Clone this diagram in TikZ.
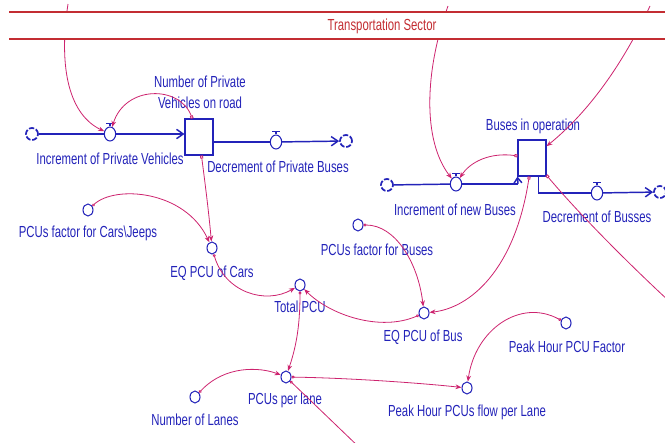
\documentclass[tikz,border=0pt]{standalone}
\usepackage{fontspec}
\setmainfont[FakeStretch=0.71]{Liberation Sans}
\usetikzlibrary{arrows.meta,shapes.geometric}

\definecolor{flowblue}{RGB}{35,35,185}
\definecolor{linkpink}{RGB}{205,35,110}
\definecolor{bandred}{RGB}{195,45,50}

\tikzset{
  lbl/.style={text=flowblue, font=\fontsize{12}{15.5}\selectfont, inner sep=0pt, align=center},
  aux/.style={ellipse, draw=flowblue, thick, minimum width=7.5pt, minimum height=9pt, inner sep=0pt},
  valve/.style={aux, minimum width=8.5pt, minimum height=10.5pt},
  stock/.style={rectangle, draw=flowblue, thick, minimum width=21pt, minimum height=27pt, inner sep=0pt},
  cloud/.style={circle, draw=flowblue, line width=1.3pt, dash pattern=on 4pt off 1.3pt, minimum size=9pt, inner sep=0pt},
  pipe/.style={draw=flowblue, line width=1.1pt},
  link/.style={draw=linkpink, line width=0.6pt, arrows={Circle[open,length=2.2pt,width=2.2pt]-Stealth[length=4.5pt,width=3.5pt]}},
  slink/.style={link, arrows={Square[open,length=2.2pt,width=2.2pt]-Stealth[length=4.5pt,width=3.5pt]}},
  tlink/.style={link, arrows={-Stealth[length=4.5pt,width=3.5pt]}},
}

\begin{document}
\begin{tikzpicture}[x=0.75pt, y=-0.75pt]
    \useasboundingbox (0,0) rectangle (665,443);

    % stocks, valves, clouds
    \node[cloud] (cld1) at (32,134) {};
    \node[valve] (vinc) at (110,134) {};
    \node[stock] (nveh) at (199,137) {};
    \node[valve] (vdec) at (276,142) {};
    \node[cloud] (cld2) at (346,141) {};

    \node[cloud] (cld3) at (387,185) {};
    \node[valve] (binc) at (456,184) {};
    \node[stock] (bus) at (532,158) {};
    \node[valve] (bdec) at (597,193) {};
    \node[cloud] (cld4) at (660,192) {};

    % valve tops
    \foreach \v in {vinc,vdec,binc,bdec}
        \draw[pipe] (\v.north) -- ++(0,-3) ++(-4,0) -- ++(8,0);

    % flows
    \draw[pipe] (cld1) -- (vinc);
    \draw[pipe, -{Straight Barb[length=5pt,width=7pt]}] (vinc) -- (vinc -| nveh.west);
    \draw[pipe] (nveh.east |- vdec) -- (vdec);
    \draw[pipe, -{Straight Barb[length=5pt,width=7pt]}] (vdec) -- (cld2);

    \coordinate (bcor) at (518,184);
    \draw[pipe] (cld3) -- (binc);
    \draw[pipe] (binc) -- (bcor);
    \draw[pipe, -{Straight Barb[length=4pt,width=6pt]}] (bcor) -- (bus.south west);
    \draw[pipe] ([xshift=5pt]bus.south) |- (bdec);
    \draw[pipe, -{Straight Barb[length=5pt,width=7pt]}] (bdec) -- (cld4);

    % auxiliaries
    \node[aux] (pcf) at (88,210) {};
    \node[aux] (eqc) at (212,248) {};
    \node[aux] (tot) at (300,285) {};
    \node[aux] (pfb) at (358,225) {};
    \node[aux] (eqb) at (424,313) {};
    \node[aux] (phf) at (566,323) {};
    \node[aux] (ppl) at (286,377) {};
    \node[aux] (pfl) at (467,388) {};
    \node[aux] (nl) at (195,397) {};

    % labels
    \node[lbl] (nveh-l) at (200,92) {Number of Private\\Vehicles on road};
    \node[lbl] (vinc-l) at (110,159) {Increment of Private Vehicles};
    \node[lbl] (vdec-l) at (278,167) {Decrement of Private Buses};
    \node[lbl] (bus-l) at (533,126) {Buses in operation};
    \node[lbl] (binc-l) at (455,210) {Increment of new Buses};
    \node[lbl] (bdec-l) at (597,217) {Decrement of Busses};
    \node[lbl] (pcf-l) at (88,233) {PCUs factor for Cars\textbackslash Jeeps};
    \node[lbl] (eqc-l) at (212,273) {EQ PCU of Cars};
    \node[lbl] (tot-l) at (300,307) {Total PCU};
    \node[lbl] (pfb-l) at (377,250) {PCUs factor for Buses};
    \node[lbl] (eqb-l) at (423,337) {EQ PCU of Bus};
    \node[lbl] (phf-l) at (567,347) {Peak Hour PCU Factor};
    \node[lbl] (ppl-l) at (285,400) {PCUs per lane};
    \node[lbl] (pfl-l) at (467,412) {Peak Hour PCUs flow per Lane};
    \node[lbl] (nl-l) at (195,420) {Number of Lanes};

    % connectors
    \coordinate (top1) at (68,4);
    \coordinate (top2) at (448,6);
    \coordinate (top3) at (650,6);
    \coordinate (off1) at (362,450);
    \coordinate (off2) at (670,302);

    \draw[tlink] (top1) .. controls (58,70) and (70,115) .. (vinc);
    \draw[slink] (nveh) .. controls (180,85) and (125,85) .. (vinc);
    \draw[slink] (nveh) .. controls (206,190) and (209,215) .. (eqc);
    \draw[link] (pcf) .. controls (115,185) and (185,190) .. (eqc);
    \draw[link] (eqc) .. controls (225,292) and (265,305) .. (tot);
    \draw[link] (pfb) .. controls (395,225) and (418,262) .. (eqb);
    \draw[link] (eqb) .. controls (380,332) and (330,315) .. (tot);
    \draw[slink] (bus) .. controls (515,270) and (470,308) .. (eqb);
    \draw[link] (tot) .. controls (300,330) and (295,350) .. (ppl);
    \draw[link] (nl) .. controls (225,365) and (260,367) .. (ppl);
    \draw[link] (ppl) .. controls (350,378) and (420,383) .. (pfl);
    \draw[link] (phf) .. controls (520,298) and (475,330) .. (pfl);
    \draw[link, arrows={Circle[open,length=2.2pt,width=2.2pt]-}] (ppl) -- (off1);
    \draw[slink, arrows={Square[open,length=2.2pt,width=2.2pt]-}] (bus) .. controls (580,215) and (630,265) .. (off2);
    \draw[tlink] (top2) .. controls (425,70) and (422,140) .. (binc);
    \draw[tlink] (top3) .. controls (620,70) and (585,115) .. (bus);
    \draw[slink] (bus) .. controls (490,152) and (470,162) .. (binc);

    % sector band
    \fill[white] (9,12) rectangle (665,39);
    \draw[bandred, line width=1pt] (9,12) -- (665,12) (9,39) -- (665,39);
    \node[lbl, text=bandred] (title) at (382,26) {Transportation Sector};
\end{tikzpicture}
\end{document}
